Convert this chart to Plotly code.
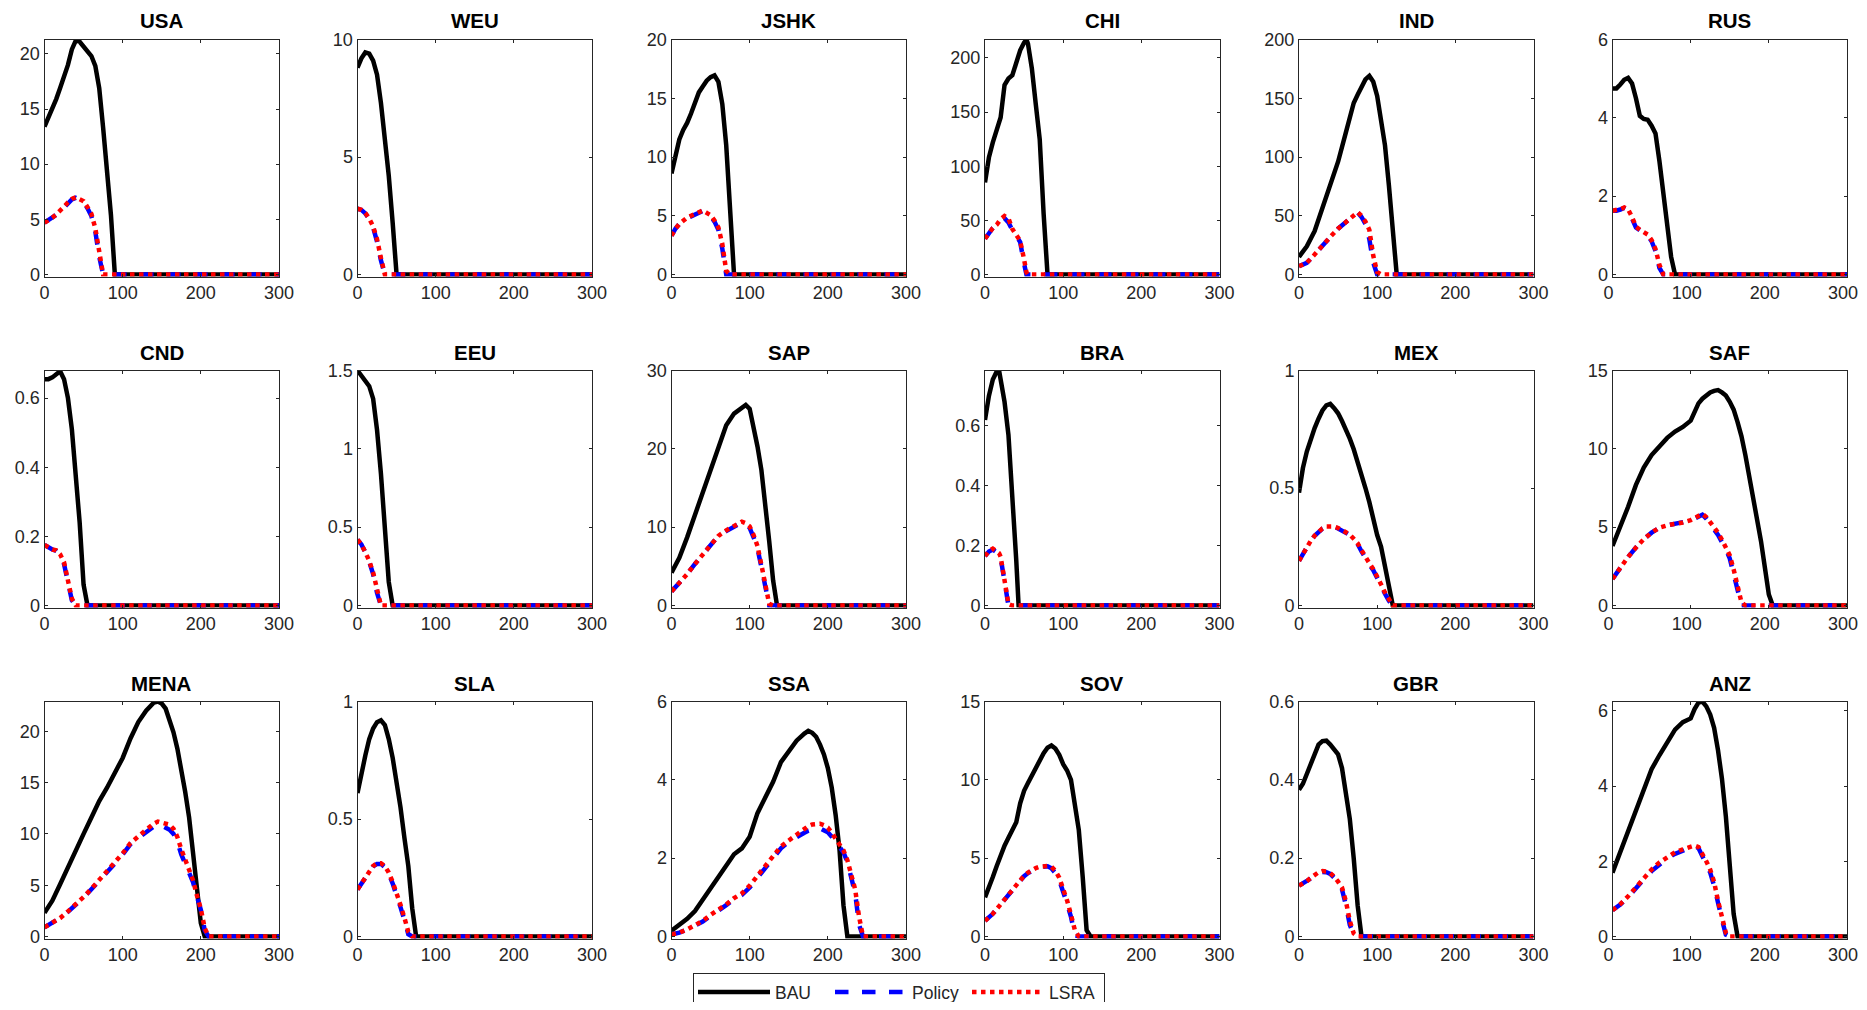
import plotly.graph_objects as go

# ---------------- data ----------------
REGIONS = ["USA", "WEU", "JSHK", "CHI", "IND", "RUS",
           "CND", "EEU", "SAP", "BRA", "MEX", "SAF",
           "MENA", "SLA", "SSA", "SOV", "GBR", "ANZ"]
SERIES = ["BAU", "Policy", "LSRA"]

USA_X = [0, 5, 10, 15, 20, 25, 30, 35, 40, 45, 50, 55, 60, 65, 70, 75, 80, 85, 90, 300]
USA_BAU = [13.4, 14.2, 15.1, 15.9, 16.9, 17.9, 19.0, 20.4, 21.2, 21.1, 20.7, 20.3, 19.8, 18.9, 16.9, 13.3, 9.3, 5.4, 0, 0]
USA_POL = [4.7, 4.9, 5.1, 5.4, 5.7, 6.1, 6.5, 6.8, 6.95, 6.8, 6.6, 6.0, 5.3, 3.9, 1.6, 0, 0, 0, 0, 0]
USA_LSRA = [4.7, 4.9, 5.15, 5.45, 5.75, 6.15, 6.55, 6.85, 7.0, 6.85, 6.65, 6.1, 5.5, 4.2, 2.0, 0, 0, 0, 0, 0]

WEU_X = [0, 5, 10, 15, 20, 25, 30, 35, 40, 45, 50, 300]
WEU_BAU = [8.8, 9.2, 9.45, 9.4, 9.1, 8.5, 7.3, 5.9, 4.2, 2.2, 0, 0]
WEU_POL = [2.8, 2.75, 2.6, 2.35, 2.0, 1.4, 0.6, 0, 0, 0, 0, 0]
WEU_LSRA = [2.8, 2.75, 2.62, 2.38, 2.05, 1.5, 0.7, 0, 0, 0, 0, 0]

JSHK_X = [0, 5, 10, 15, 20, 25, 30, 35, 40, 45, 50, 55, 60, 65, 70, 75, 80, 300]
JSHK_BAU = [8.6, 10.2, 11.5, 12.3, 12.9, 13.7, 14.5, 15.5, 16.0, 16.5, 16.8, 16.95, 16.4, 14.5, 11.0, 5.8, 0, 0]
JSHK_POL = [3.3, 3.9, 4.3, 4.6, 4.8, 4.95, 5.1, 5.25, 5.4, 5.2, 5.0, 4.5, 3.8, 2.2, 0, 0, 0, 0]
JSHK_LSRA = [3.3, 3.9, 4.3, 4.6, 4.85, 5.0, 5.15, 5.3, 5.45, 5.25, 5.05, 4.6, 4.0, 2.6, 0.3, 0, 0, 0]

CHI_X = [0, 5, 10, 15, 20, 25, 30, 35, 40, 45, 50, 53, 55, 60, 65, 70, 75, 80, 300]
CHI_BAU = [85, 108, 122, 132, 145, 175, 181, 184, 195, 207, 214, 217, 213, 190, 157, 125, 56, 0, 0]
CHI_POL = [33, 39, 43, 46, 50, 52, 48, 41, 36, 30, 10, 0, 0, 0, 0, 0, 0, 0, 0]
CHI_LSRA = [33, 39, 43, 46, 51, 54, 52, 42, 37, 31, 14, 2, 0, 0, 0, 0, 0, 0, 0]

IND_X = [0, 10, 20, 30, 40, 50, 60, 70, 75, 80, 85, 90, 95, 100, 105, 110, 115, 120, 125, 300]
IND_BAU = [15, 24, 37, 56, 76, 96, 121, 146, 153, 160, 166, 169, 164, 152, 133, 110, 76, 42, 0, 0]
IND_POL = [7, 10, 17, 25, 32, 39, 45, 50, 53, 49, 43, 30, 10, 0, 0, 0, 0, 0, 0, 0]
IND_LSRA = [7, 10, 17, 25, 32, 39, 45, 50, 53, 50, 45, 38, 16, 2, 0, 0, 0, 0, 0, 0]

RUS_X = [0, 5, 10, 15, 20, 25, 30, 35, 40, 45, 50, 55, 60, 65, 70, 75, 80, 300]
RUS_BAU = [4.75, 4.75, 4.85, 4.97, 5.02, 4.88, 4.5, 4.05, 3.97, 3.95, 3.8, 3.6, 2.9, 2.0, 1.1, 0.45, 0, 0]
RUS_POL = [1.63, 1.63, 1.66, 1.7, 1.65, 1.45, 1.2, 1.13, 1.08, 1.0, 0.85, 0.6, 0.17, 0, 0, 0, 0, 0]
RUS_LSRA = [1.63, 1.64, 1.67, 1.71, 1.66, 1.47, 1.22, 1.14, 1.09, 1.02, 0.88, 0.65, 0.25, 0, 0, 0, 0, 0]

CND_X = [0, 5, 10, 15, 20, 25, 30, 35, 40, 45, 50, 55, 300]
CND_BAU = [0.655, 0.655, 0.66, 0.668, 0.678, 0.655, 0.6, 0.51, 0.39, 0.24, 0.06, 0, 0]
CND_POL = [0.175, 0.168, 0.162, 0.158, 0.145, 0.12, 0.065, 0.015, 0, 0, 0, 0, 0]
CND_LSRA = [0.175, 0.168, 0.162, 0.16, 0.148, 0.125, 0.075, 0.02, 0, 0, 0, 0, 0]

EEU_X = [0, 5, 10, 15, 20, 25, 30, 35, 40, 45, 300]
EEU_BAU = [1.5, 1.47, 1.44, 1.4, 1.32, 1.12, 0.84, 0.5, 0.15, 0, 0]
EEU_POL = [0.42, 0.39, 0.34, 0.28, 0.2, 0.08, 0, 0, 0, 0, 0]
EEU_LSRA = [0.42, 0.39, 0.34, 0.285, 0.21, 0.1, 0, 0, 0, 0, 0]

SAP_X = [0, 10, 20, 30, 40, 50, 60, 70, 80, 90, 95, 100, 105, 110, 115, 120, 125, 130, 135, 300]
SAP_BAU = [4.2, 6.1, 8.7, 11.6, 14.6, 17.6, 20.5, 23.0, 24.5, 25.3, 25.6, 25.1, 23.0, 20.3, 17.3, 13.3, 8.2, 3.2, 0, 0]
SAP_POL = [1.8, 2.8, 4.0, 5.3, 6.5, 7.8, 8.9, 9.5, 10.1, 10.6, 10.4, 9.9, 8.7, 7.3, 4.9, 2.2, 0, 0, 0, 0]
SAP_LSRA = [1.8, 2.8, 4.0, 5.3, 6.5, 7.8, 8.9, 9.6, 10.2, 10.7, 10.5, 10.1, 9.0, 7.6, 5.2, 2.6, 0.2, 0, 0, 0]

BRA_X = [0, 5, 10, 15, 18, 20, 25, 30, 35, 40, 43, 300]
BRA_BAU = [0.62, 0.70, 0.755, 0.782, 0.785, 0.76, 0.68, 0.57, 0.38, 0.15, 0, 0]
BRA_POL = [0.165, 0.18, 0.187, 0.18, 0.172, 0.16, 0.08, 0, 0, 0, 0, 0]
BRA_LSRA = [0.165, 0.182, 0.19, 0.183, 0.175, 0.163, 0.09, 0.005, 0, 0, 0, 0]

MEX_X = [0, 5, 10, 15, 20, 25, 30, 35, 40, 45, 50, 55, 60, 65, 70, 75, 80, 85, 90, 95, 100, 105, 110, 115, 120, 300]
MEX_BAU = [0.48, 0.585, 0.655, 0.71, 0.755, 0.795, 0.83, 0.852, 0.858, 0.84, 0.818, 0.785, 0.75, 0.71, 0.665, 0.615,
           0.56, 0.5, 0.44, 0.36, 0.3, 0.25, 0.16, 0.07, 0, 0]
MEX_POL = [0.19, 0.22, 0.25, 0.275, 0.297, 0.315, 0.327, 0.334, 0.336, 0.334, 0.328, 0.32, 0.31, 0.3, 0.28, 0.262,
           0.23, 0.2, 0.175, 0.15, 0.12, 0.085, 0.05, 0.02, 0, 0]
MEX_LSRA = [0.19, 0.22, 0.25, 0.275, 0.297, 0.315, 0.328, 0.336, 0.338, 0.336, 0.33, 0.322, 0.312, 0.302, 0.284, 0.265,
            0.235, 0.205, 0.18, 0.155, 0.125, 0.09, 0.055, 0.025, 0, 0]

SAF_X = [0, 10, 20, 30, 40, 50, 60, 70, 80, 90, 100, 105, 110, 115, 120, 125, 130, 135, 140, 145, 150, 155, 160,
         165, 170, 175, 180, 185, 190, 195, 200, 205, 300]
SAF_BAU = [3.8, 5.0, 6.3, 7.7, 8.8, 9.6, 10.2, 10.7, 11.1, 11.4, 11.8, 12.4, 12.9, 13.2, 13.4, 13.6, 13.7, 13.75, 13.6,
           13.4, 13.0, 12.5, 11.7, 10.8, 9.6, 8.3, 7.0, 5.7, 4.1, 2.4, 0.7, 0, 0]
SAF_POL = [1.7, 2.45, 3.1, 3.7, 4.23, 4.65, 4.97, 5.12, 5.2, 5.28, 5.42, 5.55, 5.7, 5.8, 5.55, 5.25, 4.85, 4.5, 4.1,
           3.6, 3.0, 2.0, 0.95, 0, 0, 0, 0, 0, 0, 0, 0, 0, 0]
SAF_LSRA = [1.7, 2.45, 3.1, 3.7, 4.23, 4.65, 4.97, 5.12, 5.2, 5.3, 5.45, 5.6, 5.75, 5.85, 5.65, 5.35, 5.0, 4.65, 4.2,
            3.75, 3.2, 2.3, 1.2, 0.2, 0, 0, 0, 0, 0, 0, 0, 0, 0]

MENA_X = [0, 10, 20, 30, 40, 50, 60, 70, 80, 90, 100, 110, 120, 130, 140, 145, 150, 155, 160, 165, 170, 175, 180,
          185, 190, 195, 200, 205, 210, 300]
MENA_BAU = [2.3, 3.5, 5.1, 6.8, 8.4, 10.0, 11.6, 13.2, 14.5, 15.9, 17.4, 19.3, 20.9, 22.0, 22.8, 22.9, 22.7, 22.2,
            21.2, 19.9, 18.3, 16.4, 14.1, 11.6, 8.4, 4.8, 1.3, 0, 0, 0]
MENA_POL = [0.9, 1.3, 1.8, 2.4, 3.05, 3.8, 4.6, 5.4, 6.3, 7.1, 8.0, 9.0, 9.6, 10.2, 10.8, 11.0, 10.8, 10.6, 10.4,
            10.0, 9.2, 8.0, 7.0, 6.3, 5.3, 3.9, 2.6, 0.6, 0, 0]
MENA_LSRA = [0.9, 1.3, 1.8, 2.45, 3.1, 3.85, 4.65, 5.5, 6.4, 7.2, 8.1, 9.1, 9.8, 10.4, 11.0, 11.2, 11.1, 11.0, 10.9,
             10.5, 9.7, 8.5, 7.4, 6.6, 5.5, 4.0, 2.7, 0.8, 0, 0]

SLA_X = [0, 5, 10, 15, 20, 25, 30, 35, 40, 45, 50, 55, 60, 65, 70, 75, 300]
SLA_BAU = [0.61, 0.70, 0.77, 0.84, 0.885, 0.912, 0.92, 0.9, 0.84, 0.76, 0.66, 0.55, 0.42, 0.3, 0.12, 0, 0]
SLA_POL = [0.2, 0.225, 0.253, 0.28, 0.298, 0.309, 0.309, 0.295, 0.267, 0.225, 0.18, 0.125, 0.07, 0.01, 0, 0, 0]
SLA_LSRA = [0.2, 0.225, 0.255, 0.283, 0.3, 0.312, 0.312, 0.3, 0.272, 0.232, 0.188, 0.135, 0.08, 0.02, 0, 0, 0]

SSA_X = [0, 10, 20, 30, 40, 50, 60, 70, 80, 90, 100, 110, 120, 130, 140, 150, 160, 170, 175, 180, 185, 190, 195,
         200, 205, 210, 215, 220, 225, 230, 235, 240, 245, 300]
SSA_BAU = [0.15, 0.3, 0.45, 0.65, 0.95, 1.25, 1.55, 1.85, 2.1, 2.25, 2.55, 3.15, 3.55, 3.95, 4.45, 4.75, 5.0, 5.18,
           5.25, 5.2, 5.1, 4.9, 4.65, 4.3, 3.8, 3.1, 2.2, 0.8, 0, 0, 0, 0, 0, 0]
SSA_POL = [0.05, 0.1, 0.18, 0.27, 0.38, 0.53, 0.66, 0.8, 0.96, 1.06, 1.25, 1.5, 1.76, 2.0, 2.25, 2.42, 2.55, 2.65,
           2.7, 2.74, 2.76, 2.76, 2.72, 2.66, 2.55, 2.42, 2.3, 2.15, 1.9, 1.55, 1.1, 0.3, 0, 0]
SSA_LSRA = [0.05, 0.1, 0.18, 0.28, 0.4, 0.55, 0.68, 0.82, 0.98, 1.1, 1.3, 1.55, 1.8, 2.05, 2.3, 2.45, 2.6, 2.75,
            2.82, 2.86, 2.88, 2.88, 2.84, 2.78, 2.65, 2.5, 2.35, 2.2, 1.95, 1.6, 1.2, 0.5, 0, 0]

SOV_X = [0, 5, 10, 15, 20, 25, 30, 35, 40, 45, 50, 55, 60, 65, 70, 75, 80, 85, 90, 95, 100, 105, 110, 115, 120,
         125, 130, 135, 300]
SOV_BAU = [2.5, 3.1, 3.8, 4.5, 5.2, 5.8, 6.3, 6.8, 7.3, 8.5, 9.3, 9.8, 10.3, 10.7, 11.2, 11.7, 12.05, 12.2, 12.0,
           11.6, 11.0, 10.6, 10.0, 8.6, 6.8, 3.8, 0.4, 0, 0]
SOV_POL = [1.0, 1.2, 1.45, 1.75, 2.05, 2.35, 2.7, 3.0, 3.3, 3.55, 3.85, 4.05, 4.2, 4.33, 4.42, 4.46, 4.48, 4.35,
           4.05, 3.6, 2.95, 2.1, 1.25, 0.1, 0, 0, 0, 0, 0]
SOV_LSRA = [1.0, 1.2, 1.45, 1.75, 2.05, 2.38, 2.72, 3.02, 3.32, 3.58, 3.88, 4.08, 4.24, 4.37, 4.46, 4.5, 4.5, 4.45,
            4.2, 3.75, 3.1, 2.3, 1.4, 0.4, 0, 0, 0, 0, 0]

GBR_X = [0, 5, 10, 15, 20, 25, 30, 35, 40, 45, 50, 55, 60, 65, 70, 75, 80, 300]
GBR_BAU = [0.375, 0.39, 0.415, 0.44, 0.465, 0.49, 0.499, 0.5, 0.49, 0.478, 0.465, 0.43, 0.37, 0.3, 0.2, 0.08, 0, 0]
GBR_POL = [0.13, 0.135, 0.14, 0.148, 0.155, 0.162, 0.165, 0.164, 0.16, 0.15, 0.135, 0.12, 0.08, 0.03, 0.005, 0, 0, 0]
GBR_LSRA = [0.13, 0.135, 0.141, 0.15, 0.157, 0.164, 0.167, 0.166, 0.162, 0.153, 0.14, 0.125, 0.09, 0.04, 0.008, 0, 0, 0]

ANZ_X = [0, 10, 20, 30, 40, 50, 60, 70, 80, 90, 100, 105, 110, 115, 120, 125, 130, 135, 140, 145, 150, 155, 160, 300]
ANZ_BAU = [1.7, 2.25, 2.75, 3.35, 3.9, 4.45, 4.82, 5.17, 5.5, 5.7, 5.8, 6.05, 6.22, 6.25, 6.12, 5.9, 5.55, 4.95,
           4.2, 3.2, 1.9, 0.6, 0, 0]
ANZ_POL = [0.7, 0.85, 1.05, 1.3, 1.52, 1.74, 1.93, 2.08, 2.2, 2.28, 2.35, 2.4, 2.35, 2.15, 1.95, 1.7, 1.35, 0.85,
           0.45, 0.05, 0, 0, 0, 0]
ANZ_LSRA = [0.7, 0.86, 1.07, 1.32, 1.55, 1.78, 1.97, 2.12, 2.24, 2.32, 2.38, 2.42, 2.38, 2.2, 2.0, 1.78, 1.45, 0.95,
            0.55, 0.1, 0, 0, 0, 0]

# upper y-axis limits and y tick labels of each panel
Y_TOP = [21.3, 10, 20, 217, 200, 6,
         0.68, 1.5, 30, 0.785, 1, 15,
         22.9, 1, 6, 15, 0.6, 6.25]
Y_TICKS = [[0, 5, 10, 15, 20], [0, 5, 10], [0, 5, 10, 15, 20], [0, 50, 100, 150, 200], [0, 50, 100, 150, 200], [0, 2, 4, 6],
           [0, 0.2, 0.4, 0.6], [0, 0.5, 1, 1.5], [0, 10, 20, 30], [0, 0.2, 0.4, 0.6], [0, 0.5, 1], [0, 5, 10, 15],
           [0, 5, 10, 15, 20], [0, 0.5, 1], [0, 2, 4, 6], [0, 5, 10, 15], [0, 0.2, 0.4, 0.6], [0, 2, 4, 6]]
X_TICKS = [0, 100, 200, 300]

PANELS = {
    "USA": (USA_X, USA_BAU, USA_POL, USA_LSRA), "WEU": (WEU_X, WEU_BAU, WEU_POL, WEU_LSRA),
    "JSHK": (JSHK_X, JSHK_BAU, JSHK_POL, JSHK_LSRA), "CHI": (CHI_X, CHI_BAU, CHI_POL, CHI_LSRA),
    "IND": (IND_X, IND_BAU, IND_POL, IND_LSRA), "RUS": (RUS_X, RUS_BAU, RUS_POL, RUS_LSRA),
    "CND": (CND_X, CND_BAU, CND_POL, CND_LSRA), "EEU": (EEU_X, EEU_BAU, EEU_POL, EEU_LSRA),
    "SAP": (SAP_X, SAP_BAU, SAP_POL, SAP_LSRA), "BRA": (BRA_X, BRA_BAU, BRA_POL, BRA_LSRA),
    "MEX": (MEX_X, MEX_BAU, MEX_POL, MEX_LSRA), "SAF": (SAF_X, SAF_BAU, SAF_POL, SAF_LSRA),
    "MENA": (MENA_X, MENA_BAU, MENA_POL, MENA_LSRA), "SLA": (SLA_X, SLA_BAU, SLA_POL, SLA_LSRA),
    "SSA": (SSA_X, SSA_BAU, SSA_POL, SSA_LSRA), "SOV": (SOV_X, SOV_BAU, SOV_POL, SOV_LSRA),
    "GBR": (GBR_X, GBR_BAU, GBR_POL, GBR_LSRA), "ANZ": (ANZ_X, ANZ_BAU, ANZ_POL, ANZ_LSRA),
}

# ---------------- layout / styling ----------------
OFF = 8  # the page body margin shifts the figure by 8px; positions below are screen pixels
W, H = 1867 - 2 * OFF, 1010 - 2 * OFF
COL_LEFT = [44.5, 357.5, 671.5, 985.0, 1299.0, 1612.5]
BOX_W = 234.5
ROW_TOP = [39.5, 370.5, 701.5]
BOX_H = 237.0
FONT = "Liberation Sans, Arial, Helvetica, sans-serif"
AX_COLOR = "#262626"
STYLES = [dict(color="#000000", width=4.5, dash="solid"),
          dict(color="#0000ff", width=4.5, dash="dash"),
          dict(color="#ff0000", width=4.5, dash="dot")]

fig = go.Figure()
annotations = []
for i, reg in enumerate(REGIONS):
    r, c = divmod(i, 6)
    sfx = "" if i == 0 else str(i + 1)
    xs, bau, pol, lsra = PANELS[reg]
    for k, ys in enumerate([bau, pol, lsra]):
        fig.add_trace(go.Scatter(
            x=xs, y=ys, mode="lines", name=SERIES[k], line=STYLES[k],
            showlegend=(i == 0), legendgroup=SERIES[k], hoverinfo="skip",
            xaxis="x" + sfx, yaxis="y" + sfx))
    x0 = (COL_LEFT[c] - OFF) / W
    x1 = (COL_LEFT[c] - OFF + BOX_W) / W
    y1 = 1 - (ROW_TOP[r] - OFF) / H
    y0 = 1 - (ROW_TOP[r] - OFF + BOX_H) / H
    top = Y_TOP[i]
    pad = top * 2.0 / BOX_H
    common = dict(showline=True, mirror="ticks", linecolor=AX_COLOR, linewidth=1,
                  ticks="inside", ticklen=3, tickcolor=AX_COLOR, tickwidth=1,
                  showgrid=False, zeroline=False, automargin=False,
                  tickfont=dict(family=FONT, size=18, color=AX_COLOR))
    fig.layout["xaxis" + sfx] = dict(domain=[x0, x1], range=[0, 300], tickvals=X_TICKS,
                                     anchor="y" + sfx, ticklabelstandoff=0,
                                     ticklabelshift=(-4 if c == 5 else 0), **common)
    fig.layout["yaxis" + sfx] = dict(domain=[y0, y1], range=[-pad, top], tickvals=Y_TICKS[i],
                                     anchor="x" + sfx, ticklabelstandoff=0, **common)
    annotations.append(dict(text="<b>%s</b>" % reg, x=(x0 + x1) / 2, y=y1, xref="paper", yref="paper",
                            xanchor="center", yanchor="bottom", yshift=5, showarrow=False,
                            font=dict(family=FONT, size=20.5, color="#000000")))

fig.update_layout(
    width=W, height=H, margin=dict(l=0, r=0, t=0, b=0, autoexpand=False),
    paper_bgcolor="white", plot_bgcolor="white",
    annotations=annotations,
    legend=dict(orientation="h", x=(693 - OFF) / W, xanchor="left", y=1 - (973 - OFF) / H, yanchor="top",
                bordercolor=AX_COLOR, borderwidth=1, bgcolor="white",
                font=dict(family=FONT, size=17.5, color=AX_COLOR),
                itemwidth=72, entrywidth=50, tracegroupgap=0),
)
fig.write_html("out.html")
